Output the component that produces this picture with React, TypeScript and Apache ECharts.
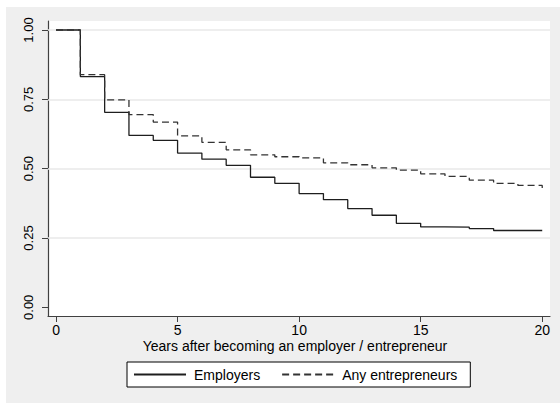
import React, { useEffect, useRef } from "react";
import * as echarts from "echarts";

const years = [0, 1, 2, 3, 4, 5, 6, 7, 8, 9, 10, 11, 12, 13, 14, 15, 16, 17, 18, 19, 20];
const employers = [1.0, 0.832, 0.703, 0.62, 0.602, 0.556, 0.534, 0.512, 0.469, 0.447, 0.41, 0.388, 0.356, 0.332, 0.303, 0.29, 0.289, 0.284, 0.277, 0.277, 0.277];
const anyEntrepreneurs = [1.0, 0.839, 0.748, 0.695, 0.668, 0.618, 0.595, 0.568, 0.55, 0.543, 0.539, 0.521, 0.514, 0.503, 0.4945, 0.4815, 0.472, 0.4585, 0.4466, 0.4394, 0.43];
const xTicks = [0, 5, 10, 15, 20];
const yTicks = [0, 0.25, 0.5, 0.75, 1.0];
const gridValues = [0.25, 0.5, 0.75, 1.0];
const seriesNames = ["Employers", "Any entrepreneurs"];
const xTitle = "Years after becoming an employer / entrepreneur";

const FONT = "'Liberation Sans', Arial, sans-serif";

export default function App() {
  const ref = useRef<HTMLDivElement>(null);
  useEffect(() => {
    if (!ref.current) return;
    const chart = echarts.init(ref.current, undefined, { renderer: "svg" });
    const axisColor = "#404040";
    chart.setOption({
      animation: false,
      backgroundColor: "#efefef",
      textStyle: { fontFamily: FONT },
      grid: {
        left: 42,
        top: 14,
        width: 502,
        height: 295,
        show: true,
        backgroundColor: "#ffffff",
        borderWidth: 0,
      },
      legend: {
        data: seriesNames,
        left: 121,
        top: 355,
        orient: "horizontal",
        itemWidth: 52,
        itemHeight: 14,
        itemGap: 21,
        padding: [5.5, 13, 5.5, 6],
        backgroundColor: "#ffffff",
        borderColor: "#000000",
        borderWidth: 1,
        borderRadius: 0,
        itemStyle: { color: "transparent", borderColor: "transparent", borderWidth: 0, opacity: 0 },
        textStyle: { fontSize: 14, color: "#000", fontFamily: FONT, padding: [0, 0, 0, 3] },
      },
      xAxis: {
        type: "value",
        min: -0.33,
        max: 20.32,
        name: xTitle,
        nameLocation: "middle",
        nameGap: 24.7,
        nameMoveOverlap: false,
        nameTextStyle: { fontSize: 14, lineHeight: 11, color: "#000", fontFamily: FONT, padding: [0, 8, 0, 0] },
        axisLine: { show: true, onZero: false, lineStyle: { color: axisColor, width: 1.2 } },
        axisTick: { show: true, length: 6, customValues: xTicks, lineStyle: { color: axisColor } },
        axisLabel: { customValues: xTicks, margin: 8.1, fontSize: 14, lineHeight: 11, color: "#000", fontFamily: FONT },
        splitLine: { show: false },
      },
      yAxis: {
        type: "value",
        min: -0.0314,
        max: 1.0325,
        axisLine: { show: true, onZero: false, lineStyle: { color: axisColor, width: 1.2 } },
        axisTick: { show: true, length: 6, customValues: yTicks, lineStyle: { color: axisColor } },
        axisLabel: {
          customValues: yTicks,
          rotate: 90,
          margin: 13,
          fontSize: 13,
          color: "#000",
          fontFamily: FONT,
          formatter: (v: number) => v.toFixed(2),
        },
        splitLine: { show: false },
      },
      series: [
        {
          name: "gridlines",
          type: "line",
          data: [],
          z: 1,
          silent: true,
          markLine: {
            silent: true,
            z: 1,
            symbol: "none",
            label: { show: false },
            lineStyle: { color: "#e8e8e8", width: 1.5, type: "solid" },
            data: gridValues.map((v) => ({ yAxis: v })),
          },
        },
        {
          name: seriesNames[0],
          type: "line",
          step: "end",
          symbol: "none",
          z: 3,
          data: years.map((y, i) => [y, employers[i]]),
          lineStyle: { color: "#1e1e1e", width: 1.3, type: "solid" },
          itemStyle: { color: "#1e1e1e" },
        },
        {
          name: seriesNames[1],
          type: "line",
          step: "end",
          symbol: "none",
          z: 4,
          data: years.map((y, i) => [y, anyEntrepreneurs[i]]),
          lineStyle: { color: "#333333", width: 1.3, type: [7, 4] },
          itemStyle: { color: "#333333" },
        },
      ],
    });
    return () => chart.dispose();
  }, []);
  return (
    <div style={{ position: "fixed", left: 0, top: 0, width: 560, height: 403, background: "#ffffff" }}>
      <div ref={ref} style={{ position: "absolute", left: 6, top: 7, width: 554, height: 396 }} />
    </div>
  );
}
